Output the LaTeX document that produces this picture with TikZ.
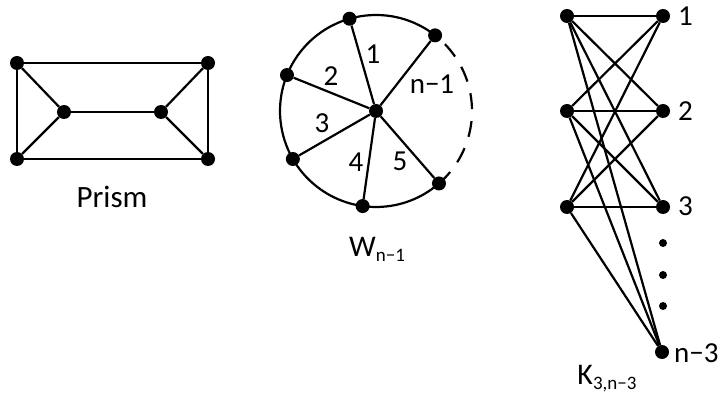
\documentclass[tikz,border=0pt]{standalone}
\usepackage{fontspec}
\setmainfont{Carlito}
\usepackage{tikz}
\usetikzlibrary{positioning}
\tikzset{
  vtx/.style={circle,fill=black,inner sep=0pt,minimum size=14pt},
  smalldot/.style={circle,fill=black,inner sep=0pt,minimum size=8pt},
  link/.style={line width=2.2pt,black},
  lbl/.style={font=\fontsize{29}{29}\selectfont,anchor=base,inner sep=0pt},
  gname/.style={font=\fontsize{30}{30}\selectfont,anchor=base,inner sep=0pt}
}
\newcommand{\Sub}[1]{\raisebox{-5pt}{\fontsize{19}{19}\selectfont #1}}

\begin{document}
\begin{tikzpicture}[x=1pt,y=-1pt]
  \useasboundingbox (0,0) rectangle (722,395);
  % prism
  \node[vtx] (p1) at (17,63) {};
  \node[vtx] (p2) at (208,63) {};
  \node[vtx] (p3) at (17,159) {};
  \node[vtx] (p4) at (208,159) {};
  \node[vtx] (p5) at (64,112) {};
  \node[vtx] (p6) at (161,112) {};
  \draw[link] (p1) -- (p2) -- (p4) -- (p3) -- (p1);
  \draw[link] (p1) -- (p5) -- (p3);
  \draw[link] (p2) -- (p6) -- (p4);
  \draw[link] (p5) -- (p6);
  \node[lbl,font=\fontsize{31}{31}\selectfont] (prism) at (112,208) {Prism};
  % wheel
  \node[vtx] (W0) at (376,111) {};
  \node[vtx] (w1) at ([shift={(-106:96)}]W0) {};
  \node[vtx] (w2) at ([shift={(-158:96)}]W0) {};
  \node[vtx] (w3) at ([shift={(150:96)}]W0) {};
  \node[vtx] (w4) at ([shift={(98:96)}]W0) {};
  \node[vtx] (w5) at ([shift={(49:96)}]W0) {};
  \node[vtx] (wn) at ([shift={(-52:96)}]W0) {};
  \draw[link] (wn.center) arc[start angle=-52,end angle=-311,radius=96];
  \draw[link,dash pattern=on 16pt off 12pt] (w5.center) arc[start angle=49,end angle=-52,radius=96];
  \foreach \v in {w1,w2,w3,w4,w5,wn}
    \draw[link] (W0) -- (\v);
  \node[lbl] (l1) at (373,64) {1};
  \node[lbl] (l2) at (331,86) {2};
  \node[lbl] (l3) at (322,133) {3};
  \node[lbl] (l4) at (356,172) {4};
  \node[lbl] (l5) at (400,171) {5};
  \node[lbl] (ln) at (432,94) {n−1};
  \node[gname] (wname) at (377,256) {W\Sub{n−1}};
  % K_{3,n-3}
  \foreach \i/\y in {1/16,2/111,3/207} {
    \node[vtx] (a\i) at (567,\y) {};
    \node[vtx] (b\i) at (663,\y) {};
  }
  \node[vtx] (bn) at (662,352) {};
  \foreach \y in {243,275,306}
    \node[smalldot] (e\y) at (663,\y) {};
  \foreach \i in {1,2,3}
    \foreach \j in {1,2,3,n}
      \draw[link] (a\i) -- (b\j);
  \node[lbl,anchor=base west] (k1) at (678,26) {1};
  \node[lbl,anchor=base west] (k2) at (678,121) {2};
  \node[lbl,anchor=base west] (k3) at (678,216) {3};
  \node[lbl,anchor=base west] (kn) at (674,362) {n−3};
  \node[gname] (kname) at (607,384) {K\Sub{3,n−3}};
\end{tikzpicture}
\end{document}
